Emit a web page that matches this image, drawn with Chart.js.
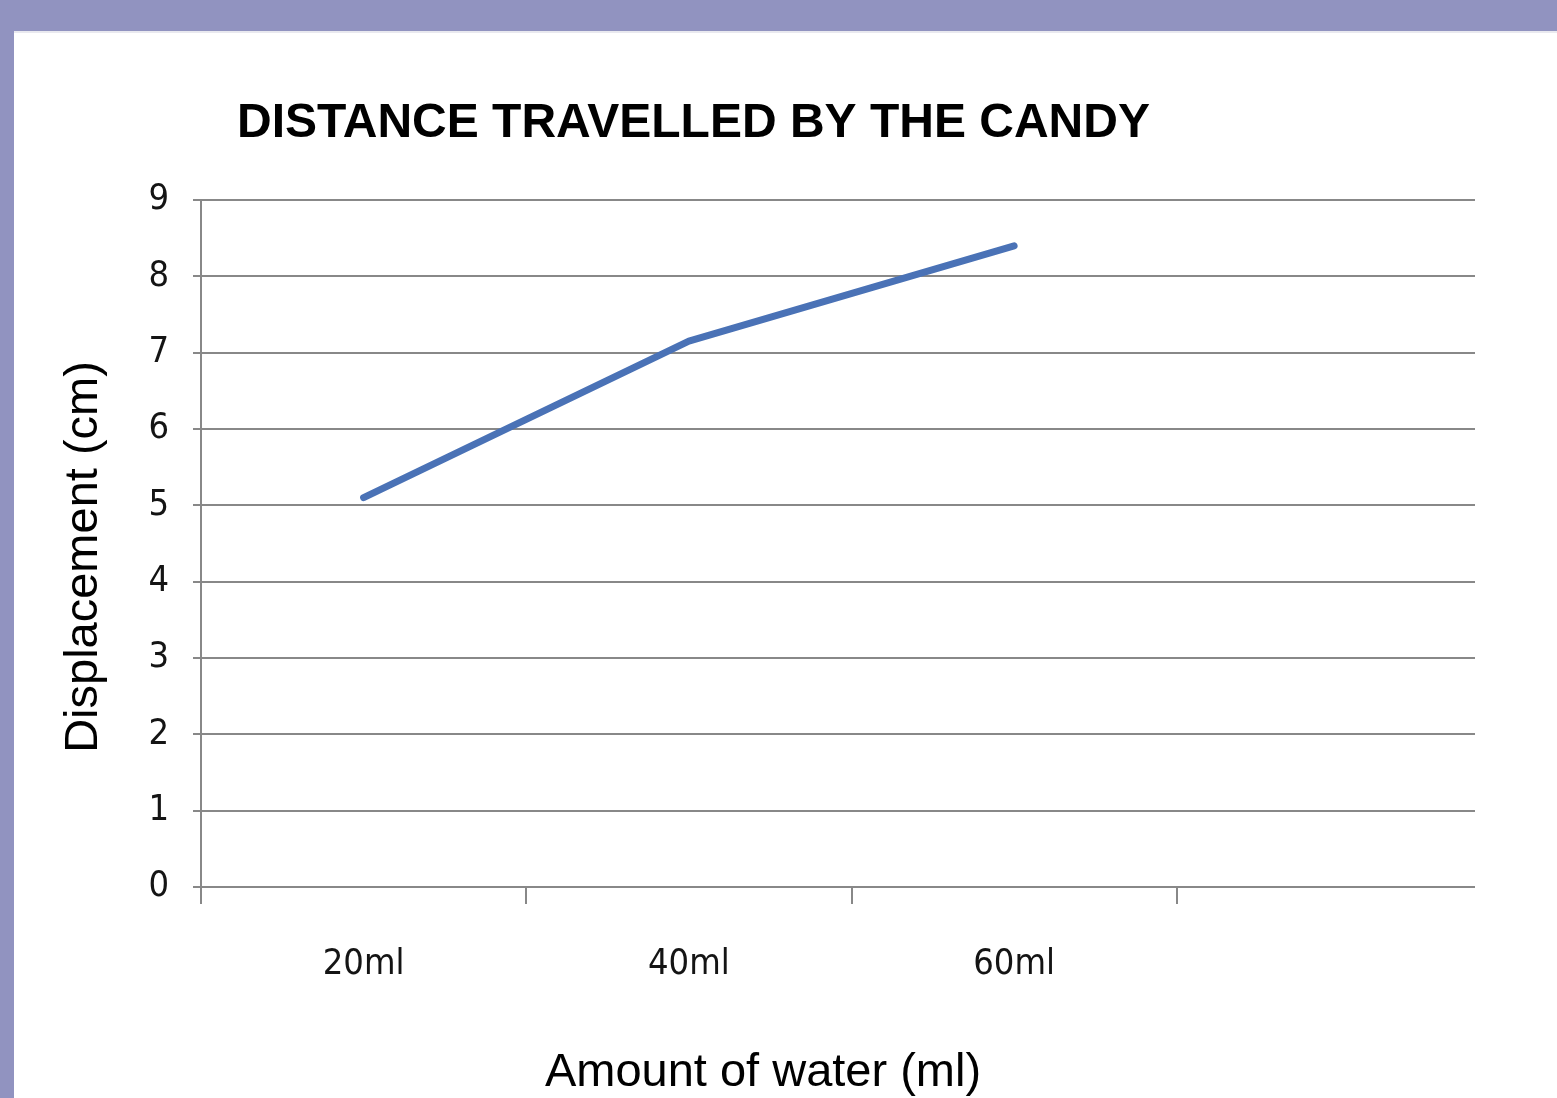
<!DOCTYPE html>
<html>
<head>
<meta charset="utf-8">
<script src="https://cdn.jsdelivr.net/npm/chart.js@4.4.1/dist/chart.umd.min.js"></script>
<style>
  html, body { margin: 0; padding: 0; background: #ffffff; }
  #wrap { position: relative; width: 1557px; height: 1098px; }
  canvas { display: block; }
</style>
</head>
<body>
<div id="wrap"><canvas id="c" width="1557" height="1098"></canvas></div>
<script>
const chartTitle = "DISTANCE TRAVELLED BY THE CANDY";
const xTitle = "Amount of water (ml)";
const yTitle = "Displacement (cm)";
const categories = ["20ml", "40ml", "60ml", ""];
const displacement = [5.1, 7.15, 8.4, null];
const yTicks = [0, 1, 2, 3, 4, 5, 6, 7, 8, 9];

const narrow = "'Liberation Sans Narrow', 'DejaVu Sans Condensed', 'Arial Narrow', sans-serif";
const sans = "'Liberation Sans', Arial, sans-serif";

const framePlugin = {
  id: 'frame',
  beforeDraw(chart) {
    const ctx = chart.ctx;
    ctx.save();
    ctx.fillStyle = '#ffffff';
    ctx.fillRect(0, 0, chart.width, chart.height);
    ctx.restore();
  },
  afterDraw(chart) {
    const ctx = chart.ctx;
    const area = chart.chartArea;
    ctx.save();
    // hide the unused right part of the last (empty) category slot
    ctx.fillStyle = '#ffffff';
    ctx.fillRect(1475, area.top - 6, chart.width - 1475, area.bottom - area.top + 30);
    // page frame
    ctx.fillStyle = '#9193c0';
    ctx.fillRect(0, 0, chart.width, 31);
    ctx.fillRect(0, 0, 14, chart.height);
    ctx.fillStyle = '#e9e9ef';
    ctx.fillRect(14, 31, chart.width - 14, 2);
    // texts
    ctx.fillStyle = '#000000';
    ctx.font = "bold 48px " + sans;
    ctx.textAlign = 'left';
    ctx.textBaseline = 'alphabetic';
    ctx.fillText(chartTitle, 237, 137);
    ctx.font = "47px " + sans;
    ctx.textAlign = 'center';
    ctx.fillText(xTitle, 763, 1086);
    ctx.translate(97, 557);
    ctx.rotate(-Math.PI / 2);
    ctx.fillText(yTitle, 0, 0);
    ctx.restore();
  }
};

new Chart(document.getElementById('c'), {
  type: 'line',
  data: {
    labels: categories,
    datasets: [{
      data: displacement,
      borderColor: '#4a72b6',
      borderWidth: 7,
      borderCapStyle: 'round',
      borderJoinStyle: 'round',
      pointRadius: 0,
      tension: 0,
      fill: false
    }]
  },
  options: {
    responsive: false,
    animation: false,
    devicePixelRatio: 1,
    layout: { padding: { left: 0, right: 55, top: 200, bottom: 0 } },
    plugins: { legend: { display: false }, tooltip: { enabled: false }, title: { display: false } },
    scales: {
      x: {
        type: 'category',
        offset: true,
        grid: { offset: true, display: true, drawOnChartArea: false, drawTicks: true, tickLength: 17, color: '#888888', lineWidth: 2 },
        border: { display: true, color: '#888888', width: 2 },
        ticks: { color: '#141414', font: { family: narrow, size: 36 }, padding: 39, maxRotation: 0, autoSkip: false },
        afterFit(scale) { scale.height = 211; }
      },
      y: {
        min: 0, max: 9,
        afterBuildTicks(scale) { scale.ticks = yTicks.map(v => ({ value: v })); },
        grid: { color: '#888888', lineWidth: 2, tickLength: 8, drawTicks: true },
        border: { display: true, color: '#888888', width: 2 },
        ticks: { color: '#141414', font: { family: narrow, size: 36 }, padding: 24 },
        afterFit(scale) { scale.width = 201; }
      }
    }
  },
  plugins: [framePlugin]
});
</script>
</body>
</html>
